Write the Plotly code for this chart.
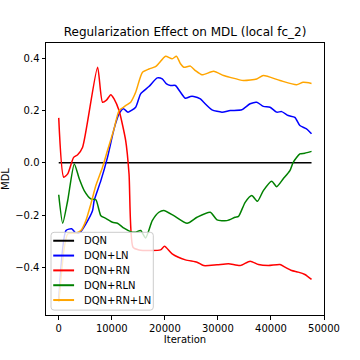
import plotly.graph_objects as go

# values
dqn_x = [0, 47650]
dqn_y = [0.0, 0.0]

ln_x = [0, 1370, 2430, 3240, 4050, 5120, 6380, 6680, 7940, 9190, 10430, 11370, 12190, 13060,
        14500, 15440, 17000, 18570, 19510, 20320, 21070, 22000, 22950, 23880, 24820, 25440,
        26700, 27320, 28890, 30770, 32320, 34520, 36080, 37330, 38570, 39830, 41080, 42020,
        43260, 44510, 45450, 46700, 47650]
ln_y = [-0.53, -0.259, -0.252, -0.269, -0.265, -0.233, -0.182, -0.144, -0.068, 0.021, 0.13, 0.187,
        0.207, 0.194, 0.213, 0.264, 0.292, 0.325, 0.321, 0.302, 0.296, 0.296, 0.27, 0.247, 0.254,
        0.254, 0.245, 0.232, 0.203, 0.194, 0.2, 0.203, 0.226, 0.232, 0.216, 0.213, 0.194, 0.196,
        0.181, 0.174, 0.143, 0.13, 0.111]

rn_x = [0, 940, 1690, 2810, 3560, 4500, 7320, 8250, 9000, 9810, 10430, 11370, 12620, 13250,
        14000, 15120, 19190, 19940, 21380, 23880, 26070, 27320, 29830, 32000, 34200, 36080,
        37640, 39510, 41700, 42640, 43900, 45140, 46390, 47650]
rn_y = [0.172, -0.055, -0.042, 0.021, 0.031, 0.06, 0.366, 0.232, 0.24, 0.261, 0.245, 0.2, 0.085,
        -0.042, -0.323, -0.333, -0.333, -0.319, -0.348, -0.371, -0.38, -0.393, -0.39, -0.386,
        -0.393, -0.376, -0.389, -0.393, -0.389, -0.399, -0.412, -0.418, -0.427, -0.446]

rln_x = [0, 750, 1690, 2930, 3870, 4800, 6060, 7000, 7940, 8870, 10130, 11070, 12310, 13560,
         14500, 15440, 16380, 17630, 18880, 19810, 21690, 24200, 26070, 28570, 29830, 31700,
         33260, 33880, 35140, 36390, 37450, 38570, 40140, 41080, 42320, 43570, 44200, 45450,
         46390, 47650]
rln_y = [-0.122, -0.231, -0.144, -0.004, -0.061, -0.106, -0.138, -0.141, -0.202, -0.212, -0.227,
         -0.231, -0.25, -0.263, -0.265, -0.259, -0.287, -0.221, -0.189, -0.182, -0.202, -0.231,
         -0.208, -0.189, -0.218, -0.221, -0.208, -0.205, -0.151, -0.125, -0.147, -0.106, -0.07,
         -0.091, -0.061, -0.03, 0.002, 0.034, 0.037, 0.044]

rnln_x = [0, 1050, 1690, 3240, 4180, 5120, 6060, 7000, 8250, 9190, 10430, 11370, 12620, 13560,
          14500, 15760, 17000, 18250, 18880, 20130, 21380, 22190, 22950, 23560, 24820, 25760,
          27010, 29190, 31070, 32320, 34820, 37330, 38570, 41700, 44830, 46070, 47650]
rnln_y = [-0.533, -0.323, -0.272, -0.269, -0.259, -0.221, -0.157, -0.087, -0.017, 0.047, 0.13,
          0.2, 0.219, 0.232, 0.27, 0.346, 0.359, 0.368, 0.381, 0.408, 0.398, 0.408, 0.379, 0.366,
          0.37, 0.353, 0.337, 0.35, 0.334, 0.327, 0.315, 0.321, 0.334, 0.315, 0.299, 0.308, 0.304]

series = [
    ("DQN", dqn_x, dqn_y, "black"),
    ("DQN+LN", ln_x, ln_y, "blue"),
    ("DQN+RN", rn_x, rn_y, "red"),
    ("DQN+RLN", rln_x, rln_y, "green"),
    ("DQN+RN+LN", rnln_x, rnln_y, "orange"),
]

fig = go.Figure()
for name, xs, ys, color in series:
    fig.add_trace(go.Scatter(x=xs, y=ys, name=name, mode="lines", showlegend=False,
                             line=dict(color=color, width=1.5, shape="spline", smoothing=0.6)))

# matplotlib-like legend box in the lower left (plotly's own legend rows are too tall)
bx0, bx1, by0, by1, r = 0.018, 0.386, 0.018, 0.304, 0.011
fig.add_shape(type="path", xref="paper", yref="paper", layer="above",
              path=(f"M {bx0 + r} {by0} L {bx1 - r} {by0} Q {bx1} {by0} {bx1} {by0 + r} "
                    f"L {bx1} {by1 - r} Q {bx1} {by1} {bx1 - r} {by1} "
                    f"L {bx0 + r} {by1} Q {bx0} {by1} {bx0} {by1 - r} "
                    f"L {bx0} {by0 + r} Q {bx0} {by0} {bx0 + r} {by0} Z"),
              fillcolor="rgba(255,255,255,0.8)", line=dict(color="#cccccc", width=1))
row_top, row_step = 0.273, 0.0545
for i, (name, _, _, color) in enumerate(series):
    yy = row_top - i * row_step
    fig.add_shape(type="line", xref="paper", yref="paper", layer="above",
                  x0=0.026, x1=0.101, y0=yy, y1=yy, line=dict(color=color, width=2))
    fig.add_annotation(xref="paper", yref="paper", x=0.128, y=yy, text=name, showarrow=False,
                       xanchor="left", yanchor="middle", font=dict(size=10, color="black"))

axis_style = dict(showline=True, linecolor="black", linewidth=1, mirror=True,
                  ticks="outside", ticklen=3.5, tickcolor="black", showgrid=False,
                  zeroline=False, automargin=False, tickfont=dict(size=10, color="black"))

fig.update_layout(
    width=360, height=360,
    margin=dict(l=46, r=36, t=43, b=45),
    paper_bgcolor="white", plot_bgcolor="white",
    font=dict(family="DejaVu Sans", size=10, color="black"),
    title=dict(text="Regularization Effect on MDL (local fc_2)", x=0.514, xanchor="center",
               y=0.912, yanchor="middle", font=dict(size=12)),
    xaxis=dict(range=[-2400, 50000], tickvals=[0, 10000, 20000, 30000, 40000, 50000],
               ticktext=["0", "10000", "20000", "30000", "40000", "50000"],
               title=dict(text="Iteration", standoff=3, font=dict(size=10)), **axis_style),
    yaxis=dict(range=[-0.582, 0.4585], tickvals=[-0.4, -0.2, 0.0, 0.2, 0.4],
               ticktext=["\u22120.4", "\u22120.2", "0.0", "0.2", "0.4"],
               title=dict(text="MDL", standoff=4, font=dict(size=10)), **axis_style),
    showlegend=False,
)

# drop the page's default body margin so the 360px figure fills the window
fig.write_html("out.html", config={"displayModeBar": False},
               post_script="document.body.style.margin = '0';")
